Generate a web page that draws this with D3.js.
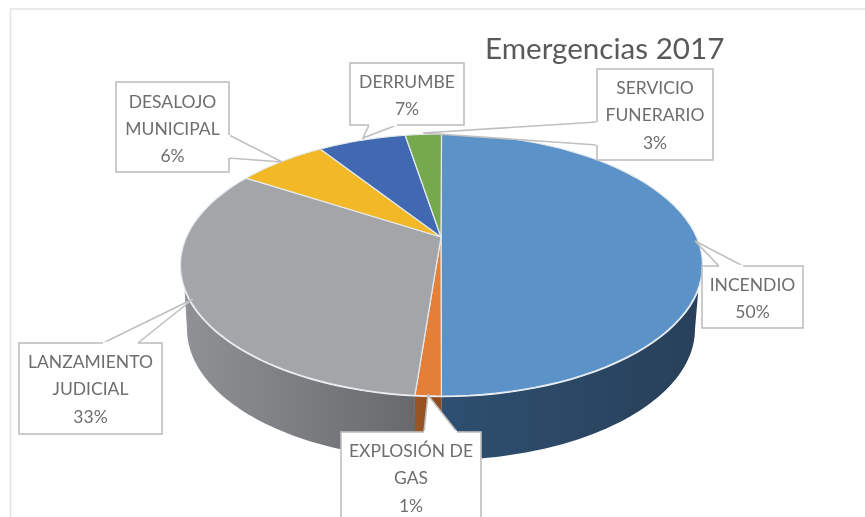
<!DOCTYPE html>
<html>
<head>
<meta charset="utf-8">
<script src="https://cdn.jsdelivr.net/npm/d3@7"></script>
<style>
  body { margin: 0; background: #fff; overflow: hidden; }
  svg { display: block; filter: blur(0.6px); }
  text { font-family: Lato, "Open Sans", sans-serif; }
</style>
</head>
<body>
<div class="chart-holder"></div>
<script>
const title = "Emergencias 2017"
const categoryLines = [["INCENDIO"], ["EXPLOSIÓN DE", "GAS"], ["LANZAMIENTO", "JUDICIAL"], ["DESALOJO", "MUNICIPAL"], ["DERRUMBE"], ["SERVICIO", "FUNERARIO"]]
// what the labels say
const percents = [50, 1, 33, 6, 7, 3]
const sliceShares = [50, 1.62, 34.9, 5.78, 5.47, 2.22]

const topColors = ["#5b92c7", "#e47f38", "#a4a5a8", "#f2b825", "#4169b1", "#76a84e"]
// left and right end of each visible wall
const wallColors = [["#2e4f70", "#28405a"], ["#9a5524", "#8c4c1e"], ["#909194", "#68696c"]]

// label boxes, tail = [base point, apex, base point], textY = first line
const callouts = [
  { x: 702, y: 266, w: 101, h: 62, textY: 285, tail: [[743, 266], [695, 241], [719, 266]] },
  { x: 341, y: 432, w: 140, h: 100, textY: 451, tail: [[457, 432], [428, 395], [424, 432]] },
  { x: 19, y: 343, w: 143, h: 91, textY: 362, tail: [[103, 343], [193, 299], [138, 343]] },
  { x: 116, y: 82, w: 113, h: 90, textY: 101.5, tail: [[229, 135], [282, 162], [229, 158]] },
  { x: 350, y: 63, w: 114, h: 62, textY: 82, tail: [[369, 125], [363, 138], [397, 125]] },
  { x: 597, y: 69, w: 116, h: 91, textY: 88, tail: [[597, 122], [423, 133], [597, 145]] }
]

const width = 865, height = 517
const top3d = { cx: 441.5, cy: 265, rx: 261, ry: 131 }
const bottom3d = { cx: 441, cy: 329, rx: 254, ry: 131 }
// perspective pulls the middle of the pie back from the middle of the ellipse
const apex = [441, 237]

const svg = d3.select(".chart-holder").append("svg").attr("width", width).attr("height", height)

// frame of the pasted chart
svg.append("path").attr("d", "M865,9H10.5V517").attr("fill", "none").attr("stroke", "#e4e4e4").attr("stroke-width", 1.5)

const slices = d3.pie().sort(null).value(d => d)(sliceShares).map((d, i) => ({
  i,
  start: d.startAngle,
  end: d.endAngle
}))

const rad = d3.scaleLinear().domain([0, 360]).range([0, 2 * Math.PI])
const wallTop = [rad(100), rad(260)]
const wallBottom = [rad(90), rad(270)]

const onEllipse = (e, a) => [e.cx + e.rx * Math.sin(a), e.cy - e.ry * Math.cos(a)]
const sweep = (a, b) => d3.range(0, 61).map(k => a + (b - a) * k / 60)

function wallPath(d) {
  const a = Math.max(d.start, wallTop[0]), b = Math.min(d.end, wallTop[1])
  const a2 = d.start <= wallTop[0] ? wallBottom[0] : d.start
  const b2 = d.end >= wallTop[1] ? wallBottom[1] : d.end
  const pts = sweep(a, b).map(t => onEllipse(top3d, t))
    .concat(sweep(b2, a2).map(t => onEllipse(bottom3d, t)))
  return d3.line()(pts) + "Z"
}

const defs = svg.append("defs")
const walls = slices.filter(d => d.start < wallTop[1] && d.end > wallTop[0])
walls.forEach((d, k) => {
  const grad = defs.append("linearGradient").attr("id", "wall" + k)
  grad.append("stop").attr("offset", "0%").attr("stop-color", wallColors[k][0])
  grad.append("stop").attr("offset", "100%").attr("stop-color", wallColors[k][1])
})

svg.append("g").selectAll("path")
  .data(walls)
  .enter()
  .append("path")
  .attr("d", wallPath)
  .attr("fill", (d, k) => `url(#wall${k})`)

// white rim along the front of the pie
svg.append("path")
  .attr("d", d3.line()(sweep(rad(90), rad(270)).map(t => onEllipse(top3d, t))))
  .attr("fill", "none")
  .attr("stroke", "#f4f7fa")
  .attr("stroke-width", 2.5)

svg.append("g").selectAll("path")
  .data(slices)
  .enter()
  .append("path")
  .attr("d", d => d3.line()([apex].concat(sweep(d.start, d.end).map(t => onEllipse(top3d, t)))) + "Z")
  .attr("fill", d => topColors[d.i])
  .attr("stroke", "#e4eaef")
  .attr("stroke-width", 1.2)
  .attr("stroke-linejoin", "round")

// callouts
const labelG = svg.append("g").selectAll("g")
  .data(callouts)
  .enter()
  .append("g")

labelG.append("rect")
  .attr("x", d => d.x).attr("y", d => d.y)
  .attr("width", d => d.w).attr("height", d => d.h)
  .attr("fill", "#fff")
  .attr("stroke", "#bfbfbf")
  .attr("stroke-width", 1.6)

labelG.append("path")
  .attr("d", d => d3.line()(d.tail))
  .attr("fill", "#fff")
  .attr("stroke", "#bfbfbf")
  .attr("stroke-width", 1.6)

// hide the box edge under the tail opening
labelG.append("path")
  .attr("d", d => d3.line()([d.tail[0], d.tail[2]]))
  .attr("stroke", "#fff")
  .attr("stroke-width", 2.4)

labelG.each(function(d, n) {
  const lines = categoryLines[n].concat(percents[n] + "%")
  d3.select(this).selectAll("text")
    .data(lines)
    .enter()
    .append("text")
    .attr("x", d.x + d.w / 2)
    .attr("y", (t, i) => d.textY + i * 27.3)
    .attr("dy", "0.35em")
    .attr("text-anchor", "middle")
    .attr("font-size", 17.5)
    .attr("fill", "#6e6e6e")
    .text(t => t)
})

svg.append("text")
  .attr("x", 485)
  .attr("y", 59)
  .attr("font-size", 29.6)
  .attr("fill", "#595959")
  .text(title)
</script>
</body>
</html>
